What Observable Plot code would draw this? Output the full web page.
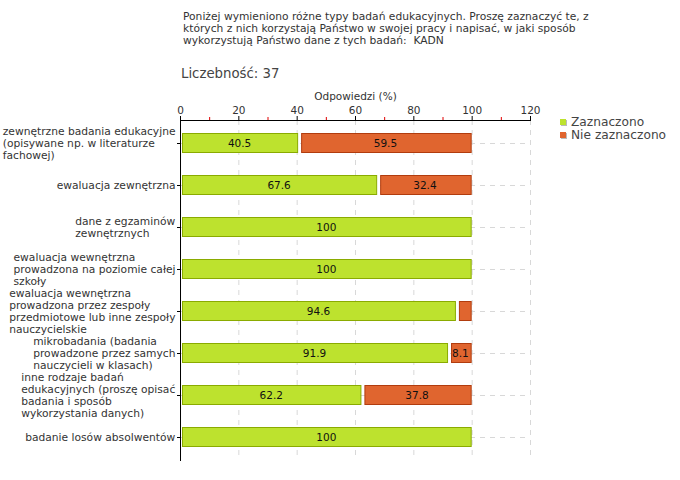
<!DOCTYPE html>
<html>
<head>
<meta charset="utf-8">
<script src="https://cdn.jsdelivr.net/npm/d3@7"></script>
<script src="https://cdn.jsdelivr.net/npm/@observablehq/plot@0.6"></script>
<style>
  body { margin: 0; background: #fff; }
  #wrap { position: relative; width: 680px; height: 480px; font-family: "DejaVu Sans", sans-serif; color: #333; }
  #wrap svg { position: absolute; left: 0; top: 0; }
  .title { position: absolute; left: 183px; top: 11px; font-size: 10.7px; line-height: 12px; color: #333; white-space: pre; }
  .count { position: absolute; left: 181px; top: 66px; font-size: 13.3px; color: #444; }
  .legend { position: absolute; left: 560px; top: 116px; font-size: 12.2px; line-height: 13px; color: #444; }
  .legend .sw { display: inline-block; width: 6px; height: 6px; margin-right: 5px; box-shadow: 1px 1px 0 #bbb; vertical-align: 1px; }
</style>
</head>
<body>
<div id="wrap"></div>
<script>
const titleText = "Poniżej wymieniono różne typy badań edukacyjnych. Proszę zaznaczyć te, z\nktórych z nich korzystają Państwo w swojej pracy i napisać, w jaki sposób\nwykorzystują Państwo dane z tych badań:  KADN";
const countText = "Liczebność: 37";
const axisLabel = "Odpowiedzi (%)";
const categories = [
  "zewnętrzne badania edukacyjne\n(opisywane np. w literaturze\nfachowej)",
  "ewaluacja zewnętrzna",
  "dane z egzaminów\nzewnętrznych",
  "ewaluacja wewnętrzna\nprowadzona na poziomie całej\nszkoły",
  "ewaluacja wewnętrzna\nprowadzona przez zespoły\nprzedmiotowe lub inne zespoły\nnauczycielskie",
  "mikrobadania (badania\nprowadzone przez samych\nnauczycieli w klasach)",
  "inne rodzaje badań\nedukacyjnych (proszę opisać\nbadania i sposób\nwykorzystania danych)",
  "badanie losów absolwentów"
];
const seriesNames = ["Zaznaczono", "Nie zaznaczono"];
const zaznaczono = [40.5, 67.6, 100, 100, 94.6, 91.9, 62.2, 100];
const nieZaznaczono = [59.5, 32.4, 0, 0, 5.4, 8.1, 37.8, 0];
const fills = ["#bde22e", "#e0652f"];
const strokes = ["#8aab00", "#b13c0e"];
const xTicks = [0, 20, 40, 60, 80, 100, 120];
const minorTicks = [10, 30, 50, 70, 90, 110];

// Build stacked rows
const rows = [];
categories.forEach((c, i) => {
  const vals = [zaznaczono[i], nieZaznaczono[i]];
  let acc = 0;
  vals.forEach((v, s) => {
    rows.push({cat: c, series: seriesNames[s], s, value: v, x1: acc, x2: acc + v});
    acc += v;
  });
});
const rowsFor = s => rows.filter(r => r.s === s && r.value > 0);

const chart = Plot.plot({
  width: 680,
  height: 480,
  marginLeft: 180,
  marginRight: 150,
  marginTop: 120,
  marginBottom: 20,
  style: {fontFamily: "'DejaVu Sans', sans-serif", fontSize: "10.5px", color: "#333", background: "transparent"},
  x: {domain: [0, 120]},
  y: {domain: categories, padding: 0},
  marks: [
    Plot.gridX(xTicks.slice(1), {stroke: "#d8d8d8", strokeOpacity: 1, strokeDasharray: "5,5"}),
    Plot.ruleY(categories, {y: d => d, stroke: "#d8d8d8", strokeDasharray: "5,5"}),
    Plot.barX(rowsFor(0), {y: "cat", x1: "x1", x2: "x2", fill: fills[0], stroke: strokes[0], insetLeft: 2.5, insetRight: 0.5, insetTop: 11.5, insetBottom: 11.5}),
    Plot.barX(rowsFor(1), {y: "cat", x1: "x1", x2: "x2", fill: fills[1], stroke: strokes[1], insetLeft: 3.5, insetRight: 0.5, insetTop: 11.5, insetBottom: 11.5}),
    Plot.text(rows.filter(r => r.value > 6), {y: "cat", x: r => (r.x1 + r.x2) / 2, text: r => String(r.value), fill: "#111", fontSize: 10.5}),
    Plot.axisX({anchor: "top", ticks: xTicks, tickSize: 5, tickPadding: 2, label: axisLabel, labelAnchor: "center", labelArrow: "none", labelOffset: 28, stroke: "#000", fill: "#333", fontSize: 10.5}),
    Plot.axisX({anchor: "top", ticks: minorTicks, tickSize: 4, tickFormat: () => "", stroke: "#e00000", label: null}),
    Plot.axisY({anchor: "left", tickSize: 3, tickPadding: 4, label: null, fill: "#333", stroke: "#000", lineHeight: 1.12, fontSize: 10.7}),
    Plot.frame({anchor: "top", stroke: "#000"}),
    Plot.frame({anchor: "left", stroke: "#000"})
  ]
});

const wrap = document.getElementById("wrap");
wrap.appendChild(chart);

// Left-align lines of each multi-line y tick label within a right-anchored block
chart.querySelectorAll('g[aria-label="y-axis tick label"] text').forEach(t => {
  const w = t.getBBox().width;
  const tsp = t.querySelectorAll("tspan");
  t.setAttribute("text-anchor", "start");
  if (tsp.length) {
    tsp.forEach(s => s.setAttribute("x", -w + 2));
  } else {
    t.setAttribute("x", -w + 2);
  }
});

const title = document.createElement("div");
title.className = "title";
title.textContent = titleText;
wrap.appendChild(title);

const count = document.createElement("div");
count.className = "count";
count.textContent = countText;
wrap.appendChild(count);

const legend = document.createElement("div");
legend.className = "legend";
seriesNames.forEach((n, i) => {
  const row = document.createElement("div");
  row.style.height = "13px";
  const sw = document.createElement("span");
  sw.className = "sw";
  sw.style.background = fills[i];
  row.appendChild(sw);
  row.appendChild(document.createTextNode(n));
  legend.appendChild(row);
});
wrap.appendChild(legend);
</script>
</body>
</html>
